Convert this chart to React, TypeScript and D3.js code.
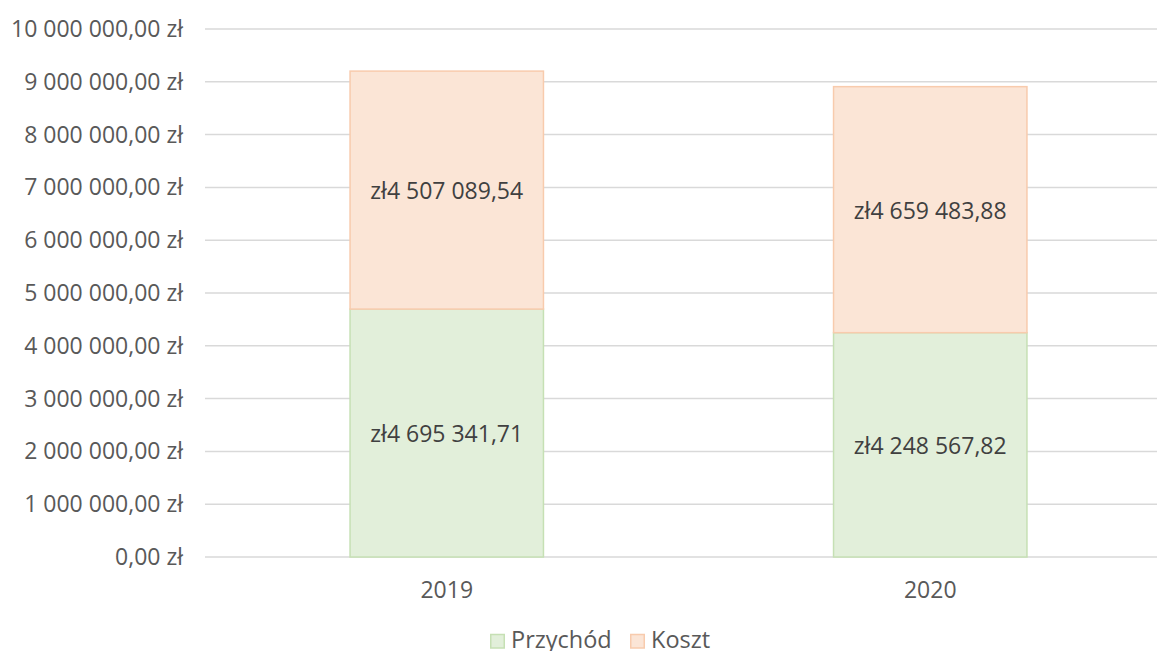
import React from 'react'
import * as d3 from 'd3'

const years = ['2019', '2020']
const przychod = [4695341.71, 4248567.82]
const koszt = [4507089.54, 4659483.88]
const seriesNames = ['Przychód', 'Koszt']
const yTicks = [0, 1000000, 2000000, 3000000, 4000000, 5000000, 6000000, 7000000, 8000000, 9000000, 10000000]

const colors = {
	'Przychód': {fill: '#e2efda', stroke: '#c6e0b4'},
	'Koszt': {fill: '#fbe5d6', stroke: '#f8cbad'},
}

const font = "'Open Sans', sans-serif"

// 1 234 567,89
function plNumber(v: number) {
	const [int, dec] = v.toFixed(2).split('.')
	return int.replace(/\B(?=(\d{3})+(?!\d))/g, ' ') + ',' + dec
}

export default function App() {
	const layout = {width: 1157, height: 651, left: 205, right: 1172, top: 29, bottom: 557}

	const xScale = d3.scaleBand()
		.domain(years)
		.range([layout.left, layout.right])
		.paddingInner(0.6)
		.paddingOuter(0.3)

	const yScale = d3.scaleLinear()
		.domain([0, 10000000])
		.range([layout.bottom, layout.top])

	const rows = years.map((y, i) => ({year: y, 'Przychód': przychod[i], 'Koszt': koszt[i]}))
	const stacked = d3.stack<any>().keys(seriesNames)(rows)

	const legendX = [490, 630]

	return (
		<svg width={layout.width} height={layout.height} style={{position: 'absolute', left: 0, top: 0, background: '#fff'}}>
			{yTicks.map(t => (
				<g key={t}>
					<line x1={layout.left} x2={layout.right} y1={yScale(t)} y2={yScale(t)} stroke='#d9d9d9' strokeWidth={1.5} />
					<text x={183} y={yScale(t)} dy='0.35em' textAnchor='end' fontFamily={font} fontSize={23} fill='#595959'>
						{plNumber(t)} zł
					</text>
				</g>
			))}
			{stacked.map(s => s.map((d, i) => {
				const x = xScale(years[i])!
				const y0 = yScale(d[0]), y1 = yScale(d[1])
				const c = colors[s.key as 'Przychód' | 'Koszt']
				return (
					<g key={s.key + i}>
						<rect x={x} y={y1} width={xScale.bandwidth()} height={y0 - y1}
							fill={c.fill} stroke={c.stroke} strokeWidth={1.5} />
						<text x={x + xScale.bandwidth() / 2} y={(y0 + y1) / 2 + 1} dy='0.35em' textAnchor='middle'
							fontFamily={font} fontSize={23} fill='#404040'>
							zł{plNumber(d[1] - d[0])}
						</text>
					</g>
				)
			}))}
			{years.map(y => (
				<text key={y} x={xScale(y)! + xScale.bandwidth() / 2} y={590} dy='0.35em' textAnchor='middle'
					fontFamily={font} fontSize={23} fill='#595959'>{y}</text>
			))}
			{seriesNames.map((n, i) => {
				const c = colors[n as 'Przychód' | 'Koszt']
				return (
					<g key={n} transform={`translate(${legendX[i]}, 641)`}>
						<rect x={0.75} y={-6.5} width={13.5} height={13.5} fill={c.fill} stroke={c.stroke} strokeWidth={1.5} />
						<text x={21} y={0} dy='0.3em' fontFamily={font} fontSize={23.5} fill='#595959'>{n}</text>
					</g>
				)
			})}
		</svg>
	)
}
